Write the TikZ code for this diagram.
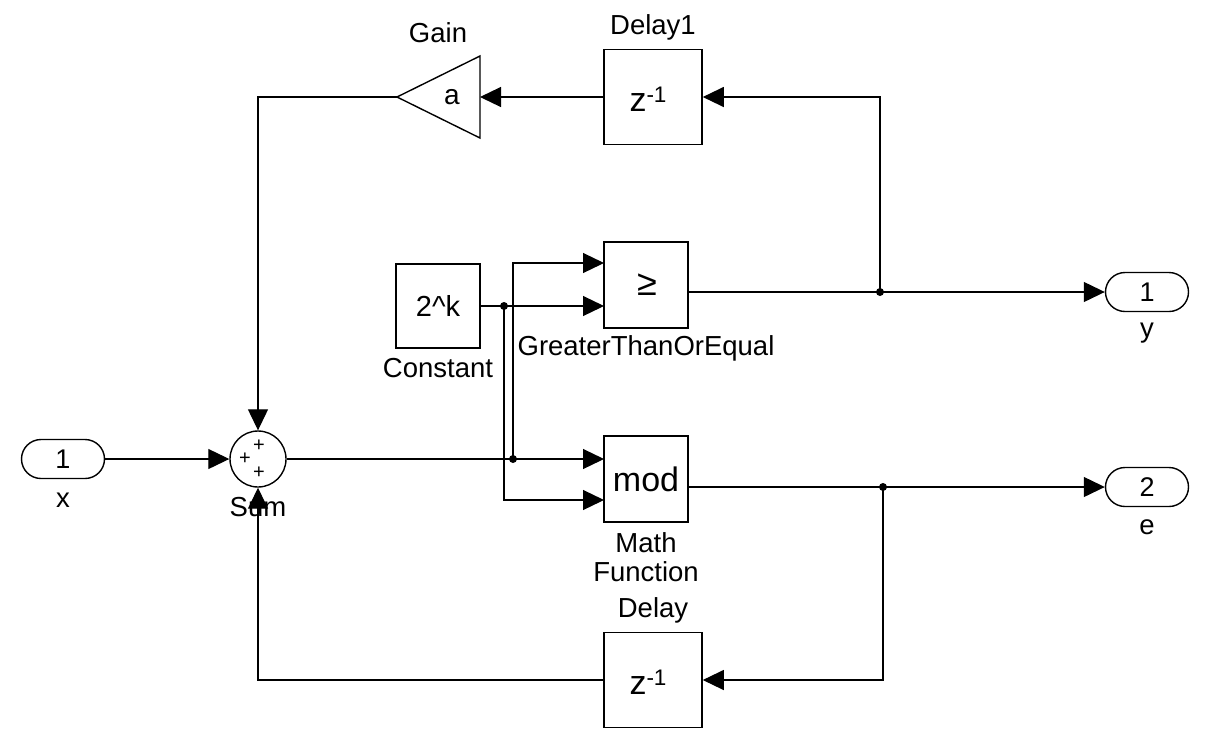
\documentclass[tikz,border=0pt]{standalone}
\usepackage{fontspec}
\setmainfont{Liberation Sans}
\usetikzlibrary{arrows.meta}
\tikzset{
  lbl/.style={font=\fontsize{27.5}{29}\selectfont, inner sep=0pt, align=center},
  blk/.style={draw, line width=1.6pt, inner sep=0pt},
  port/.style={draw, line width=1.4pt, rounded corners=19.5pt, minimum width=83pt, minimum height=39pt, inner sep=0pt, font=\fontsize{27}{30}\selectfont},
  plus/.style={font=\fontsize{20}{20}\selectfont, inner sep=0pt},
  sig/.style={line width=1.2pt, -{Triangle[length=21pt,width=20pt]}},
  dot/.style={circle, fill, inner sep=0pt, minimum size=8pt}
}
\newcommand{\zinv}{{\fontsize{34}{34}\selectfont z}{\fontsize{22.5}{22.5}\selectfont\raisebox{9pt}{-1}}}
\begin{document}
\begin{tikzpicture}[x=1pt,y=-1pt]
\useasboundingbox (0,0) rectangle (1225,753);
% blocks
\node[port] (xin) at (63,459) {1};
\node[lbl] (xl) at (63,500) {x};
\node[draw, circle, line width=1.4pt, minimum size=56pt, inner sep=0pt] (sum) at (258,459) {};
\node[plus] (p1) at (259,446) {+};
\node[plus] (p2) at (245,459) {+};
\node[plus] (p3) at (259,473) {+};
\node[lbl] (suml) at (258,507) {Sum};

\node[blk, minimum width=98pt, minimum height=95pt] (d1) at (653,97) {};
\node[inner sep=0pt] (d1t) at (648,99) {\zinv};
\node[lbl] (d1l) at (653,27) {Delay1};
\draw[line width=1.4pt] (480,56) -- (397,97) -- (480,138) -- cycle;
\coordinate (gin) at (480,97);
\coordinate (gout) at (397,97);
\node[inner sep=0pt, font=\fontsize{28}{30}\selectfont] (ga) at (452,97) {a};
\node[lbl] (gl) at (438,33) {Gain};

\node[blk, minimum width=84pt, minimum height=84pt, font=\fontsize{29}{30}\selectfont] (const) at (438,306) {2\textasciicircum k};
\node[lbl] (constl) at (438,368) {Constant};

\node[blk, minimum width=84pt, minimum height=86pt] (gte) at (646,285) {};
\node[inner sep=0pt, font=\fontsize{36}{36}\selectfont] (gtet) at (647,285) {≥};
\node[lbl] (gtel) at (646,348) {GreaterThanOrEqual};

\node[blk, minimum width=84pt, minimum height=86pt, font=\fontsize{34}{34}\selectfont] (mod) at (646,479) {mod};
\node[lbl] (modl) at (646,557) {Math\\Function};

\node[blk, minimum width=98pt, minimum height=95pt] (d0) at (653,680) {};
\node[inner sep=0pt] (d0t) at (648,682) {\zinv};
\node[lbl] (d0l) at (653,610) {Delay};

\node[port] (yout) at (1147,292) {1};
\node[lbl] (yl) at (1147,333) {y};
\node[port] (eout) at (1147,487) {2};
\node[lbl] (el) at (1147,527) {e};

% coordinates
\coordinate (g1) at (604,263);
\coordinate (g2) at (604,306);
\coordinate (m1) at (604,459);
\coordinate (m2) at (604,500);
\coordinate (go) at (688,292);
\coordinate (mo) at (688,487);
\node[dot] (j1) at (513,459) {};
\node[dot] (j2) at (504,306) {};
\node[dot] (j3) at (880,292) {};
\node[dot] (j4) at (883,487) {};
\coordinate (ytop) at (880,97);
\coordinate (ebot) at (883,680);

% connectors
\draw[sig] (xin.east) -- (sum.west);
\draw[sig] (sum.east) -- (m1);
\draw[sig] (j1.center) |- (g1);
\draw[sig] (const.east) -- (g2);
\draw[sig] (j2.center) |- (m2);
\draw[sig] (go) -- (yout.west);
\draw[sig] (j3.center) -- (ytop) -- (d1.east);
\draw[sig] (d1.west) -- (gin);
\draw[sig] (gout) -| (sum.north);
\draw[sig] (mo) -- (eout.west);
\draw[sig] (j4.center) -- (ebot) -- (d0.east);
\draw[sig] (d0.west) -| (sum.south);
\end{tikzpicture}
\end{document}
